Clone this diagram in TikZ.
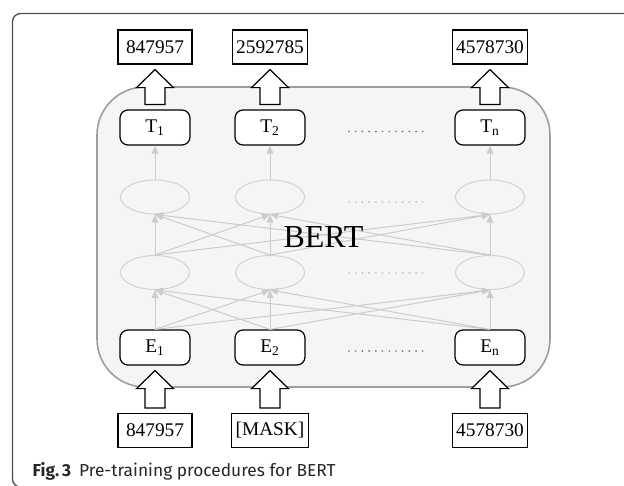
\documentclass[tikz,border=0pt]{standalone}
\usepackage{fontspec}
\setmainfont{Liberation Serif}
\newfontfamily\capfont{Fira Sans}
\usetikzlibrary{arrows.meta,calc,positioning,shapes}

\tikzset{
  numbox/.style={draw, rectangle, line width=0.9pt, minimum width=55.5pt,
    minimum height=25.5pt, inner xsep=3pt, font=\fontsize{14.5}{16}\selectfont},
  unit/.style={draw, rounded corners=6pt, line width=0.9pt, fill=white,
    minimum width=52.5pt, minimum height=26.25pt, font=\fontsize{14.5}{16}\selectfont},
  hid/.style={draw=black!18, ellipse, line width=0.75pt,
    minimum width=51.75pt, minimum height=25.5pt},
  link/.style={draw=black!20, line width=0.75pt, -{Triangle[length=6pt,width=5pt]}},
  bertbox/.style={draw=black!38, fill=black!4, line width=1.2pt, rounded corners=36pt,
    minimum width=339.75pt, minimum height=225pt},
  dotrow/.style={line width=1.4pt, line cap=round, dash pattern=on 0pt off 5.03pt},
  fat/.style={draw, fill=white, line width=0.9pt, to path={
    ($(\tikztostart)+(-10,-5)$) -- ($(\tikztostart |- \tikztotarget)+(-10,23)$)
    -- ($(\tikztostart |- \tikztotarget)+(-18.5,23)$)
    -- ($(\tikztostart |- \tikztotarget)+(0,5)$)
    -- ($(\tikztostart |- \tikztotarget)+(18.5,23)$)
    -- ($(\tikztostart |- \tikztotarget)+(10,23)$)
    -- ($(\tikztostart)+(10,-5)$) -- cycle}}
}

\begin{document}
\begin{tikzpicture}[x=0.75pt,y=-0.75pt]
\useasboundingbox (0,0) rectangle (624,485);
% outer frame
\draw[black!70, line width=1pt, rounded corners=6pt] (12.5,13.5) rectangle (700,487);

% model
\node[bertbox] (bert) at (323.5,237) {};

% token boxes
\node[unit] (t1) at (155,127.5) {T\textsubscript{1}};
\node[unit] (t2) at (270,127.5) {T\textsubscript{2}};
\node[unit] (tn) at (490,127.5) {T\textsubscript{n}};
\node[unit] (e1) at (155,347.5) {E\textsubscript{1}};
\node[unit] (e2) at (270,347.5) {E\textsubscript{2}};
\node[unit] (en) at (490,347.5) {E\textsubscript{n}};

% hidden layers
\node[hid] (up1) at (155,197) {};
\node[hid] (up2) at (270,197) {};
\node[hid] (upn) at (490,197) {};
\node[hid] (lo1) at (155,272.5) {};
\node[hid] (lo2) at (270,272.5) {};
\node[hid] (lon) at (490,272.5) {};

\foreach \a in {1,2,n}{
  \foreach \b in {1,2,n}{
    \draw[link] (e\a.north) -- (lo\b.south);
    \draw[link] (lo\a.north) -- (up\b.south);
  }
  \draw[link] (up\a.north) -- (t\a.south);
}

\draw[dotrow, black!55] (349,131.5) -- (423.5,131.5);
\draw[dotrow, black!25] (349,202) -- (423.5,202);
\draw[dotrow, black!25] (349,273) -- (423.5,273);
\draw[dotrow, black!55] (349,351) -- (423.5,351);

\node[font=\fontsize{24}{28}\selectfont] (bertlabel) at (bert.center) {BERT};

% ids in and out
\node[numbox] (out1) at (155,47) {847957};
\node[numbox] (out2) at (270,47) {2592785};
\node[numbox] (outn) at (490,47) {4578730};
\node[numbox] (in1) at (155,430.5) {847957};
\node[numbox] (in2) at (270,430.5) {[MASK]};
\node[numbox] (inn) at (490,430.5) {4578730};

\draw[fat] (t1.north) to (out1.south);
\draw[fat] (t2.north) to (out2.south);
\draw[fat] (tn.north) to (outn.south);
\draw[fat] (in1.north) to (e1.south);
\draw[fat] (in2.north) to (e2.south);
\draw[fat] (inn.north) to (en.south);

\node[anchor=base west, text=black!85, font=\capfont\fontsize{13}{15}\selectfont]
  (caption) at (28,476) {\textbf{Fig.\,3}\hspace{6pt}Pre-training procedures for BERT};
\end{tikzpicture}
\end{document}
